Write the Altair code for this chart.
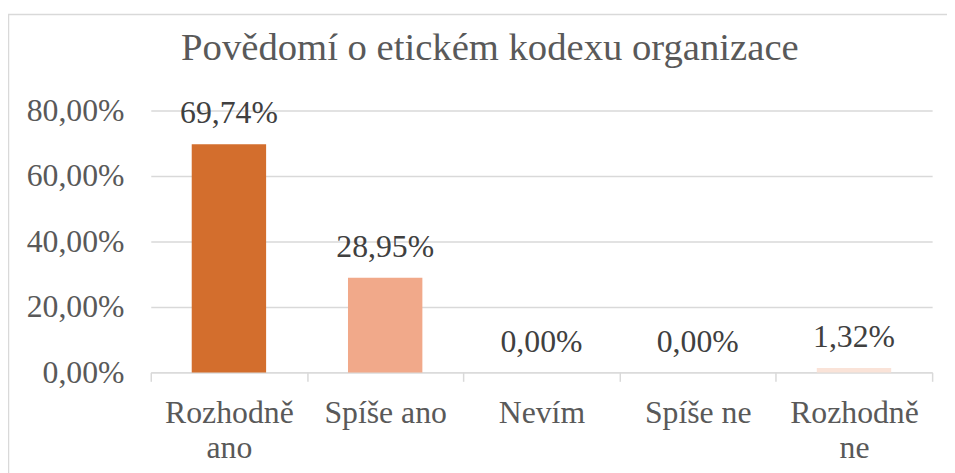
import altair as alt
import pandas as pd

categories = ["Rozhodně ano", "Spíše ano", "Nevím", "Spíše ne", "Rozhodně ne"]
values = [0.6974, 0.2895, 0.0, 0.0, 0.0132]
colors = ["#D36E2D", "#F1A98A", "#F5C0A8", "#F7CCB8", "#FAE3D8"]
y_ticks = [0.0, 0.2, 0.4, 0.6, 0.8]
title_text = "Povědomí o etickém kodexu organizace"

FONT = "Times New Roman, Liberation Serif, serif"

df = pd.DataFrame({"kat": categories, "hodnota": values, "barva": colors})

x_enc = alt.X(
    "kat:N",
    sort=categories,
    scale=alt.Scale(paddingInner=0, paddingOuter=0),
    axis=alt.Axis(
        title=None,
        labelAngle=0,
        labelFont=FONT,
        labelFontWeight="normal",
        labelFontSize=32,
        labelColor="#595959",
        labelPadding=17,
        labelLineHeight=35,
        labelExpr="datum.value == 'Rozhodně ano' ? ['Rozhodně', 'ano'] : datum.value == 'Rozhodně ne' ? ['Rozhodně', 'ne'] : datum.value",
        domainColor="#D9D9D9",
        domainWidth=1.5,
        tickColor="#D9D9D9",
        tickWidth=1.5,
        tickSize=9,
        tickBand="extent",
        grid=False,
    ),
)

y_enc = alt.Y(
    "hodnota:Q",
    scale=alt.Scale(domain=[0, 0.8], nice=False),
    axis=alt.Axis(
        title=None,
        values=y_ticks,
        labelExpr="replace(format(datum.value, '.2%'), '.', ',')",
        labelFont=FONT,
        labelFontWeight="normal",
        labelFontSize=32,
        labelColor="#595959",
        labelPadding=27,
        domain=False,
        ticks=False,
        grid=True,
        gridColor="#D9D9D9",
        gridWidth=1.5,
    ),
)

base = alt.Chart(df).encode(x=x_enc)

bars = base.mark_bar(width=alt.RelativeBandSize(0.476)).encode(
    y=y_enc,
    color=alt.Color("barva:N", scale=None),
)

labels = base.transform_calculate(
    txt="replace(format(datum.hodnota, '.2%'), '.', ',')"
).mark_text(
    font=FONT, fontWeight="normal", fontSize=32, color="#404040",
    baseline="alphabetic", dy=-21
).encode(
    y=alt.Y("hodnota:Q", scale=alt.Scale(domain=[0, 0.8], nice=False)),
    text="txt:N",
)

border = alt.Chart(pd.DataFrame({"a": [0]})).mark_rect(
    fill=None, stroke="#D9D9D9", strokeWidth=1.5
).encode(
    x=alt.value(-143.5),
    x2=alt.value(820),
    y=alt.value(-97),
    y2=alt.value(400),
)

chart = alt.layer(border, bars, labels).properties(
    width=788,
    height=264,
    autosize=alt.AutoSizeParams(type="none"),
    padding={"left": 144, "top": 101.5, "right": 15, "bottom": 99.5},
    title=alt.TitleParams(
        title_text,
        font=FONT,
        fontSize=39,
        fontWeight="normal",
        color="#595959",
        anchor="middle",
        dx=-52,
        baseline="alphabetic",
        offset=-86,
    ),
).configure(font=FONT).configure_view(stroke=None)

chart.save("out.html", embed_options={"renderer": "svg", "actions": False})
